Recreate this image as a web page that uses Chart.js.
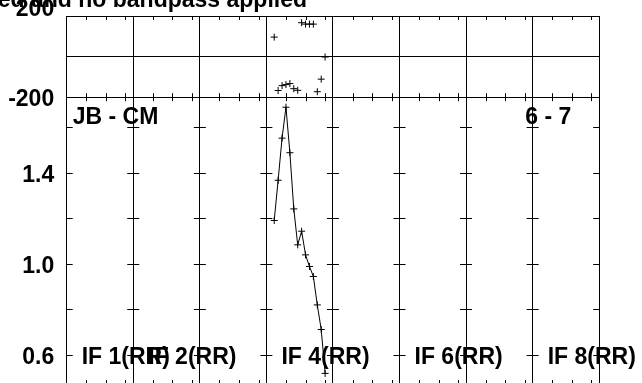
<!DOCTYPE html>
<html>
<head>
<meta charset="utf-8">
<script src="https://cdn.jsdelivr.net/npm/chart.js@4.4.1/dist/chart.umd.min.js"></script>
<style>
  html, body { margin: 0; padding: 0; overflow: hidden; background: #fff; }
</style>
</head>
<body>
<canvas id="c" width="642" height="390"></canvas>
<script>
// POSSM style plot: phase on top, amplitude below, 8 IFs side by side
const IF_WIDTH = 17;                 // x units per IF (16 channels + gap)
const nIF = 8;
const tickChannels = [5, 10, 15];    // small channel ticks inside each IF
const ifNames = ['IF 1(RR)', 'IF 2(RR)', 'IF 4(RR)', 'IF 6(RR)', 'IF 8(RR)'];
const ifNameIndex = [0, 1, 3, 5, 7];
const dataIF = 3;                    // only IF 4 has data
const channels = [2, 3, 4, 5, 6, 7, 8, 9, 10, 11, 12, 13, 14, 15];
const amplitudes = [1.191, 1.368, 1.553, 1.689, 1.489, 1.242, 1.084, 1.144, 1.040, 0.989, 0.945, 0.820, 0.712, 0.519];
const phases = [96, -167, -143, -138, -133, -158, -166, 167, 160, 160, 160, -173, -111, -2];
const phaseTicks = [-200, 0, 200];
const phaseLabels = ['-200', '', '200'];
const ampTicks = [0.6, 0.8, 1.0, 1.2, 1.4, 1.6];
const ampLabels = ['0.6', '', '1.0', '', '1.4', ''];
const baselineText = 'JB - CM';
const timeText = '6 - 7';
const titleText = 'ed and no bandpass applied';

const FONT = 'bold 23px "Liberation Sans", Arial, Helvetica, sans-serif';
const xVals = channels.map(c => dataIF * IF_WIDTH + c);

//邊框上的小刻度 + 文字
const possmDecor = {
    id: 'possmDecor',
    afterDatasetsDraw(chart) {
        const { ctx, chartArea: a, scales } = chart;
        const xs = scales.x, yPh = scales.yPh, yAmp = scales.yAmp;
        const sep = yPh.bottom;
        ctx.save();
        ctx.strokeStyle = '#000';
        ctx.lineWidth = 1;
        ctx.beginPath();
        for (let i = 0; i < nIF; i++) {
            for (const c of tickChannels) {
                const px = Math.round(xs.getPixelForValue(i * IF_WIDTH + c)) + 0.5;
                ctx.moveTo(px, a.top); ctx.lineTo(px, a.top + 4);
                ctx.moveTo(px, sep - 4); ctx.lineTo(px, sep + 4);
                ctx.moveTo(px, a.bottom - 5); ctx.lineTo(px, a.bottom);
            }
        }
        //amp ticks on every IF line
        for (let k = 0; k <= nIF; k++) {
            const px = xs.getPixelForValue(k * IF_WIDTH);
            const l = k === 0 ? 0 : 6;
            const r = k === nIF ? 0 : 6;
            for (const v of ampTicks) {
                const py = Math.round(yAmp.getPixelForValue(v)) + 0.5;
                ctx.moveTo(px - l, py); ctx.lineTo(px + r, py);
            }
        }
        ctx.stroke();

        ctx.fillStyle = '#000';
        ctx.font = FONT;
        //title (clipped at the left)
        ctx.textAlign = 'right';
        ctx.textBaseline = 'alphabetic';
        ctx.fillText(titleText, 307, 7);
        //y labels
        const lx = a.left - 12.5;
        phaseTicks.forEach((v, i) => {
            if (!phaseLabels[i]) return;
            const py = yPh.getPixelForValue(v);
            if (v === yPh.max)
                ctx.fillText(phaseLabels[i], lx, py - 0.5);
            else
                ctx.fillText(phaseLabels[i], lx, py + 8.5);
        });
        ampTicks.forEach((v, i) => {
            if (!ampLabels[i]) return;
            ctx.fillText(ampLabels[i], lx, yAmp.getPixelForValue(v) + 9);
        });

        ctx.textAlign = 'left';
        ctx.fillText(baselineText, a.left + 6, sep + 27);
        ctx.fillText(timeText, a.right - 74, sep + 26.5);
        const iy = yAmp.getPixelForValue(0.6) + 9.5;
        ifNames.forEach((t, i) => {
            ctx.fillText(t, xs.getPixelForValue(ifNameIndex[i] * IF_WIDTH) + 15, iy);
        });
        ctx.restore();
    }
};

new Chart(document.getElementById('c'), {
    type: 'scatter',
    data: {
        datasets: [
            {
                label: 'amp',
                data: xVals.map((x, i) => ({ x: x, y: amplitudes[i] })),
                yAxisID: 'yAmp',
                showLine: true,
                tension: 0,
                borderColor: '#000',
                borderWidth: 1,
                pointStyle: 'cross',
                pointRadius: 3.5,
                pointBorderColor: '#000',
                pointBorderWidth: 1,
            },
            {
                label: 'phase',
                data: xVals.map((x, i) => ({ x: x, y: phases[i] })),
                yAxisID: 'yPh',
                showLine: false,
                pointStyle: 'cross',
                pointRadius: 3.5,
                pointBorderColor: '#000',
                pointBorderWidth: 1,
            }
        ]
    },
    options: {
        responsive: false,
        animation: false,
        devicePixelRatio: 1,
        events: [],
        layout: { padding: { top: 16, left: 0, right: 42.8, bottom: 5 } },
        plugins: {
            legend: { display: false },
            tooltip: { enabled: false },
        },
        scales: {
            x: {
                type: 'linear',
                min: 0,
                max: nIF * IF_WIDTH,
                ticks: { display: false, stepSize: IF_WIDTH },
                grid: { color: '#000', lineWidth: 1, drawTicks: false },
                border: { display: false },
            },
            yPh: {
                type: 'linear',
                position: 'left',
                stack: 'v',
                stackWeight: 81.2,
                weight: 1,
                min: -200,
                max: 200,
                afterBuildTicks: s => { s.ticks = phaseTicks.map(v => ({ value: v })); },
                afterFit: s => { s.width = 66.7; },
                ticks: { display: false },
                grid: { color: '#000', lineWidth: 1, drawTicks: false },
                border: { display: false },
            },
            yAmp: {
                type: 'linear',
                position: 'left',
                stack: 'v',
                stackWeight: 287.8,
                weight: 0,
                min: 0.468,
                max: 1.733,
                afterFit: s => { s.width = 66.7; },
                ticks: { display: false },
                grid: { display: false, drawTicks: false },
                border: { display: false },
            }
        }
    },
    plugins: [possmDecor]
});
</script>
</body>
</html>
